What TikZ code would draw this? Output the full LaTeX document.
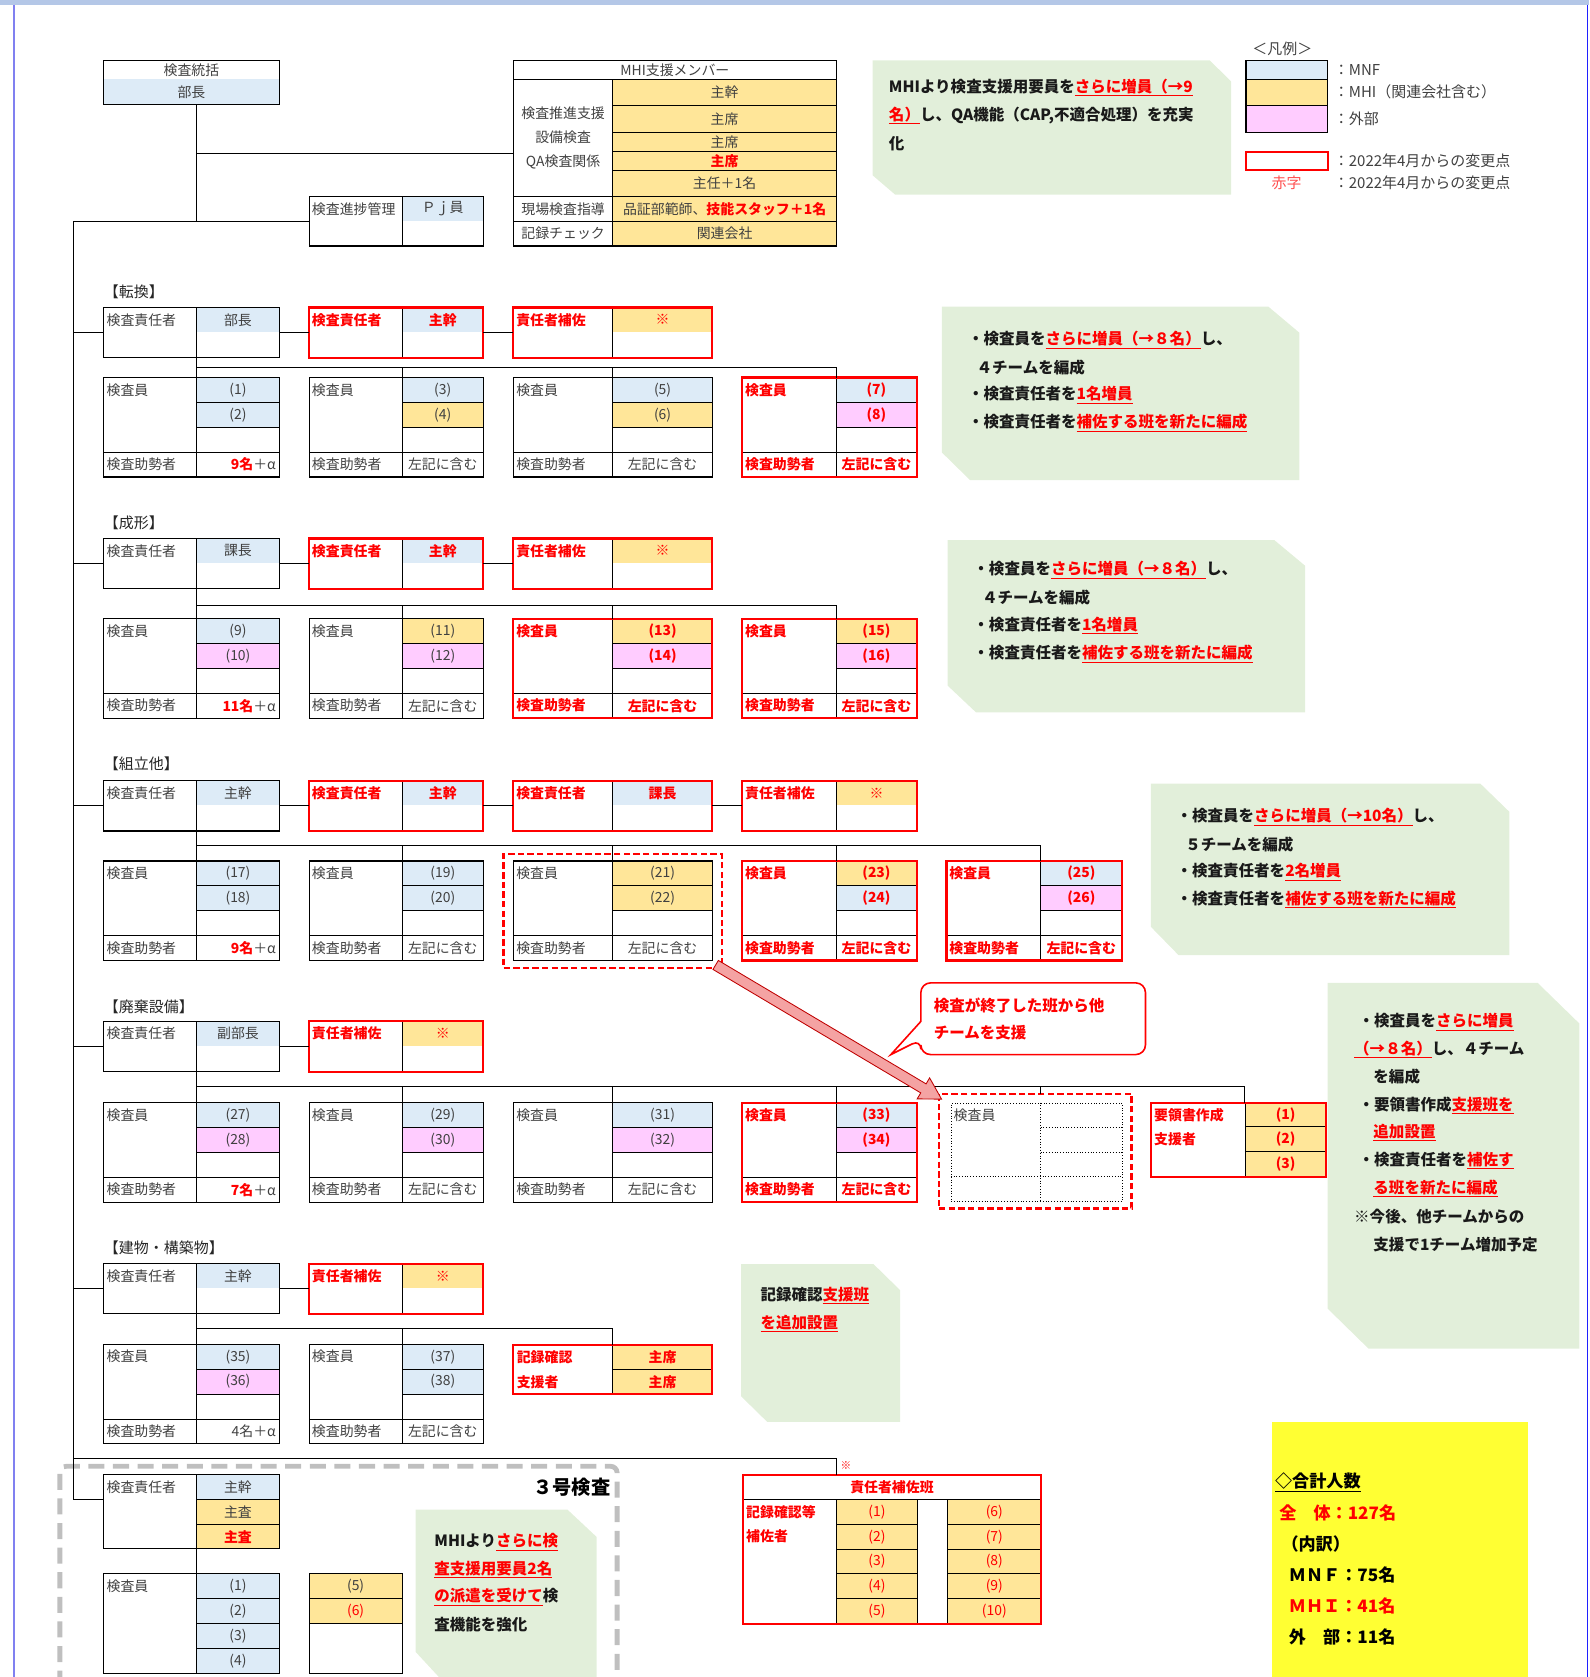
\documentclass[tikz,border=0pt]{standalone}
\usepackage{fontspec}
\setmainfont{Noto Sans CJK JP}
\usetikzlibrary{shapes.arrows,calc}
\definecolor{mnf}{HTML}{DDEBF7}
\definecolor{mhi}{HTML}{FFE699}
\definecolor{ext}{HTML}{FFCCFF}
\definecolor{notegreen}{HTML}{E2EFDA}
\definecolor{tgray}{HTML}{404040}
\definecolor{sumyellow}{HTML}{FFFF33}
\definecolor{topbar}{HTML}{B4C7E7}
\definecolor{frameleft}{HTML}{8080F0}
\definecolor{frameright}{HTML}{2020FF}
\definecolor{arrowfill}{HTML}{F4A3A3}
\definecolor{lightred}{HTML}{FF5050}
\definecolor{dashgray}{HTML}{BFBFBF}
\tikzset{
  kframe/.style={draw=black, line width=1pt, inner sep=0pt, outer sep=0pt},
  rframe/.style={draw=red, line width=2pt, inner sep=0pt, outer sep=0pt},
  cellln/.style={draw=black, line width=0.8pt},
  conn/.style={draw=black, line width=1pt},
  klbl/.style={font=\fontsize{13}{15}\selectfont, text=tgray, inner sep=0pt},
  rlbl/.style={font=\fontsize{13}{15}\selectfont\bfseries, text=red, inner sep=0pt},
  kval/.style={font=\fontsize{13}{15}\selectfont, text=tgray, inner sep=0pt},
  rval/.style={font=\fontsize{13}{15}\selectfont\bfseries, text=red, inner sep=0pt},
  ttl/.style={font=\fontsize{14}{16}\selectfont, text=black!85, anchor=west, inner sep=0pt},
  notetxt/.style={font=\fontsize{14.5}{17}\selectfont\bfseries, text=black!90, anchor=west, inner sep=0pt},
  sumtxt/.style={font=\fontsize{16}{19}\selectfont\bfseries, text=black, anchor=west, inner sep=0pt},
  legtxt/.style={font=\fontsize{14}{16}\selectfont, text=tgray, anchor=west, inner sep=0pt},
  reddash/.style={draw=red, line width=2pt, dash pattern=on 6pt off 3pt, inner sep=0pt, outer sep=0pt},
  bigarrow/.style={single arrow, draw=red!75!black, fill=arrowfill, line width=0.8pt, inner sep=4.5pt,
     single arrow head extend=6.5pt, single arrow tip angle=60, single arrow head indent=0pt},
}
\def\xAa{97}\def\xAm{184}\def\xAb{261}
\def\xBa{289}\def\xBm{376}\def\xBb{452}
\def\xCa{480}\def\xCm{573}\def\xCb{666}
\def\xDa{694}\def\xDm{782}\def\xDb{857}
\def\xEa{885}\def\xEm{973}\def\xEb{1049}
\newcommand\ru[1]{\textcolor{red}{\underline{#1}}}
% head box: #1 name #2 col #3 top #4 k/r #5 fill #6 left #7 right
\newcommand\headbox[7]{%
 \edef\tbxa{\csname x#2a\endcsname}\edef\tbxm{\csname x#2m\endcsname}\edef\tbxb{\csname x#2b\endcsname}%
 \pgfmathsetmacro\tbya{#3}\pgfmathsetmacro\tbyb{#3+23}\pgfmathsetmacro\tbye{#3+47}%
 \pgfmathsetmacro\tbww{\tbxb-\tbxa}\pgfmathsetmacro\tbxc{(\tbxm+\tbxb)/2}%
 \fill[#5] (\tbxm,\tbya) rectangle (\tbxb,\tbyb);
 \draw[cellln] (\tbxm,\tbya) -- (\tbxm,\tbye);
 \node[#4frame, anchor=north west, minimum width=\tbww pt, minimum height=47pt] (#1) at (\tbxa,\tbya) {};
 \node[#4lbl, anchor=west] (#1-l) at (\tbxa+2.5,\tbya+11.5) {#6};
 \node[#4val] (#1-r) at (\tbxc,\tbya+11.5) {#7};
}
% team box: #1 name #2 col #3 top #4 k/r #5 fill1 #6 val1 #7 fill2 #8 val2 #9 bottom right
\newcommand\teambox[9]{%
 \edef\tbxa{\csname x#2a\endcsname}\edef\tbxm{\csname x#2m\endcsname}\edef\tbxb{\csname x#2b\endcsname}%
 \pgfmathsetmacro\tbya{#3}\pgfmathsetmacro\tbyb{#3+23.25}\pgfmathsetmacro\tbyc{#3+46.5}%
 \pgfmathsetmacro\tbyd{#3+69.75}\pgfmathsetmacro\tbye{#3+93}%
 \pgfmathsetmacro\tbww{\tbxb-\tbxa}\pgfmathsetmacro\tbxc{(\tbxm+\tbxb)/2}\pgfmathsetmacro\tbcw{\tbxb-\tbxm-6}%
 \fill[#5] (\tbxm,\tbya) rectangle (\tbxb,\tbyb);
 \fill[#7] (\tbxm,\tbyb) rectangle (\tbxb,\tbyc);
 \draw[cellln] (\tbxm,\tbya) -- (\tbxm,\tbye) (\tbxm,\tbyb) -- (\tbxb,\tbyb) (\tbxm,\tbyc) -- (\tbxb,\tbyc) (\tbxa,\tbyd) -- (\tbxb,\tbyd);
 \node[#4frame, anchor=north west, minimum width=\tbww pt, minimum height=93pt] (#1) at (\tbxa,\tbya) {};
 \node[#4lbl, anchor=west] (#1-l) at (\tbxa+2.5,\tbya+11.5) {検査員};
 \node[#4val] (#1-v1) at (\tbxc,\tbya+11.6) {#6};
 \node[#4val] (#1-v2) at (\tbxc,\tbyb+11.6) {#8};
 \node[#4lbl, anchor=west] (#1-h) at (\tbxa+2.5,\tbyd+11.6) {検査助勢者};
 \node[#4val, text width=\tbcw pt, align=center] (#1-n) at (\tbxc,\tbyd+11.6) {#9};
}
\begin{document}
\begin{tikzpicture}[x=1pt,y=-1pt]
\useasboundingbox (0,0) rectangle (1486,1568);
\clip (0,0) rectangle (1486,1568);
% frame
\fill[topbar] (0,0) rectangle (1486,4.5);
\draw[frameleft, line width=1.5pt] (13,4.5) -- (13,1568);
\draw[frameright, line width=1.2pt] (1484,4.5) -- (1484,1568);

% green notes
\fill[notegreen] (816,56.4) -- (1131,56.4) -- (1151,76) -- (1151,182) -- (837,182) -- (816,164) -- cycle;
\fill[notegreen] (880.6,286.8) -- (1186,286.8) -- (1214.8,311) -- (1214.8,448.9) -- (907,448.9) -- (880.6,423) -- cycle;
\fill[notegreen] (886,505) -- (1191.5,505) -- (1220.3,529) -- (1220.3,666) -- (912.5,666) -- (886,641) -- cycle;
\fill[notegreen] (1076.1,732.6) -- (1384,732.6) -- (1411.2,759) -- (1411.2,893.1) -- (1102,893.1) -- (1076.1,866.6) -- cycle;
\fill[notegreen] (1241.3,919) -- (1437.7,919) -- (1476.7,957) -- (1476.7,1261) -- (1279.6,1261) -- (1241.3,1223.5) -- cycle;
\fill[notegreen] (692.9,1182) -- (816.8,1182) -- (841.7,1206.4) -- (841.7,1329.5) -- (717.4,1329.5) -- (692.9,1305.5) -- cycle;
\fill[notegreen] (388.7,1411.5) -- (530.6,1411.5) -- (557.8,1437) -- (557.8,1600) -- (440,1600) -- (388.7,1544.6) -- cycle;

% summary box
\node[fill=sumyellow, anchor=north west, minimum width=239pt, minimum height=260pt, inner sep=0pt] (sumbox) at (1189,1329.5) {};

% 3号 dashed frame
\draw[dashgray, line width=4.5pt, dash pattern=on 15pt off 8pt, rounded corners=6pt] (56,1600) -- (56,1371) -- (577,1371) -- (577,1600);

% coordinates
\coordinate (spine) at (69,207);
\coordinate (spineBot) at (69,1402.2);
\coordinate (cA) at (184,0);
\coordinate (cB) at (376,0);
\coordinate (cC) at (573,0);
\coordinate (cD) at (782,0);
\coordinate (cE) at (973,0);
\coordinate (cY) at (1164,0);

% ===== top: 検査統括
\fill[mnf] (97,74) rectangle (261,98);
\node[kframe, anchor=north west, minimum width=164pt, minimum height=41pt] (tokatsu) at (97,57) {};
\node[klbl] (tokatsu-t) at (179,65.5) {検査統括};
\node[klbl] (tokatsu-v) at (179,86) {部長};

% MHI table
\fill[mhi] (573,74) rectangle (782,230);
\draw[cellln] (480,74) -- (782,74) (573,74) -- (573,230) (573,98.5) -- (782,98.5) (573,124) -- (782,124)
  (573,142) -- (782,142) (573,159) -- (782,159) (480,184) -- (782,184) (480,207) -- (782,207);
\node[kframe, anchor=north west, minimum width=302pt, minimum height=173pt] (mhi) at (480,57) {};
\node[klbl] (m-title) at (631,65.5) {MHI支援メンバー};
\node[klbl] (m-l1) at (526.5,105.5) {検査推進支援};
\node[klbl] (m-l2) at (526.5,128.5) {設備検査};
\node[klbl] (m-l3) at (526.5,151.5) {QA検査関係};
\node[klbl] (m-l4) at (526.5,195.5) {現場検査指導};
\node[klbl] (m-l5) at (526.5,218.5) {記録チェック};
\node[klbl] (m-r1) at (677.5,86.2) {主幹};
\node[klbl] (m-r2) at (677.5,111.2) {主席};
\node[klbl] (m-r3) at (677.5,133) {主席};
\node[rlbl] (m-r4) at (677.5,150.5) {主席};
\node[klbl] (m-r5) at (677.5,171.5) {主任＋1名};
\node[klbl] (m-r6) at (677.5,195.5) {品証部範師、\textcolor{red}{\bfseries 技能スタッフ＋1名}};
\node[klbl] (m-r7) at (677.5,218.5) {関連会社};

% 検査進捗管理
\fill[mnf] (376,184) rectangle (452,207);
\draw[cellln] (376,184) -- (376,230);
\node[kframe, anchor=north west, minimum width=163pt, minimum height=46pt] (shinchoku) at (289,184) {};
\node[klbl, anchor=west] (shinchoku-l) at (291.5,195.5) {検査進捗管理};
\node[klbl] (shinchoku-r) at (414,195.5) {Ｐｊ員};

\draw[conn] (tokatsu.south -| cA) -- (spine -| cA);
\draw[conn] (mhi.west -| cA) -- (mhi.west);
\draw[conn] (spine) -- (shinchoku.west);
\draw[conn] (spine) -- (spineBot);

% top note text
\node[notetxt] (n0a) at (831,82) {MHIより検査支援用要員を\ru{さらに増員（→9}};
\node[notetxt] (n0b) at (831,108) {\ru{名）}し、QA機能（CAP,不適合処理）を充実};
\node[notetxt] (n0c) at (831,134) {化};

% legend
\node[legtxt, anchor=center] (lg-t) at (1199,46) {＜凡例＞};
\node[kframe, fill=mnf, anchor=north west, minimum width=76.5pt, minimum height=17.6pt] (lg-mnf) at (1165,56.4) {};
\node[kframe, fill=mhi, anchor=north west, minimum width=76.5pt, minimum height=24.5pt] (lg-mhi) at (1165,74) {};
\node[kframe, fill=ext, anchor=north west, minimum width=76.5pt, minimum height=25.5pt] (lg-ext) at (1165,98.5) {};
\node[rframe, anchor=north west, minimum width=76.5pt, minimum height=17pt] (lg-red) at (1165,142) {};
\node[legtxt] (lg-1) at (1247,65) {：MNF};
\node[legtxt] (lg-2) at (1247,86) {：MHI（関連会社含む）};
\node[legtxt] (lg-3) at (1247,111) {：外部};
\node[legtxt] (lg-4) at (1247,150.5) {：2022年4月からの変更点};
\node[legtxt, text=lightred, anchor=center] (lg-5) at (1203,171) {赤字};
\node[legtxt] (lg-6) at (1247,171) {：2022年4月からの変更点};

% ===== 転換
\node[ttl] (t-title) at (97,273) {【転換】};
\headbox{tA1}{A}{287.5}{k}{mnf}{検査責任者}{部長}
\headbox{tB1}{B}{287.5}{r}{mnf}{検査責任者}{主幹}
\headbox{tC1}{C}{287.5}{r}{mhi}{責任者補佐}{※}
\teambox{tA2}{A}{353}{k}{mnf}{(1)}{mnf}{(2)}{\hfill\textcolor{red}{\bfseries 9名}＋α}
\teambox{tB2}{B}{353}{k}{mnf}{(3)}{mhi}{(4)}{左記に含む}
\teambox{tC2}{C}{353}{k}{mnf}{(5)}{mhi}{(6)}{左記に含む}
\teambox{tD2}{D}{353}{r}{mnf}{(7)}{ext}{(8)}{左記に含む}
\draw[conn] (tA1.west -| spine) -- (tA1.west);
\draw[conn] (tA1.east) -- (tB1.west);
\draw[conn] (tB1.east) -- (tC1.west);
\coordinate (tbus) at (184,343.5);
\draw[conn] (tA1.south -| cA) -- (tA2.north -| cA);
\draw[conn] (tbus) -- (tbus -| cD) -- (tD2.north -| cD);
\draw[conn] (tbus -| cB) -- (tB2.north -| cB);
\draw[conn] (tbus -| cC) -- (tC2.north -| cC);
\node[notetxt] (n1a) at (905,318) {・検査員を\ru{さらに増員（→８名）}し、};
\node[notetxt] (n1b) at (913,343.5) {４チームを編成};
\node[notetxt] (n1c) at (905,369.4) {・検査責任者を\ru{1名増員}};
\node[notetxt] (n1d) at (905,395.3) {・検査責任者を\ru{補佐する班を新たに編成}};

% ===== 成形
\node[ttl] (s-title) at (97,489) {【成形】};
\headbox{sA1}{A}{503.5}{k}{mnf}{検査責任者}{課長}
\headbox{sB1}{B}{503.5}{r}{mnf}{検査責任者}{主幹}
\headbox{sC1}{C}{503.5}{r}{mhi}{責任者補佐}{※}
\teambox{sA2}{A}{578.5}{k}{mnf}{(9)}{ext}{(10)}{\hfill\textcolor{red}{\bfseries 11名}＋α}
\teambox{sB2}{B}{578.5}{k}{mhi}{(11)}{ext}{(12)}{左記に含む}
\teambox{sC2}{C}{578.5}{r}{mhi}{(13)}{ext}{(14)}{左記に含む}
\teambox{sD2}{D}{578.5}{r}{mhi}{(15)}{ext}{(16)}{左記に含む}
\draw[conn] (sA1.west -| spine) -- (sA1.west);
\draw[conn] (sA1.east) -- (sB1.west);
\draw[conn] (sB1.east) -- (sC1.west);
\coordinate (sbus) at (184,566);
\draw[conn] (sA1.south -| cA) -- (sA2.north -| cA);
\draw[conn] (sbus) -- (sbus -| cD) -- (sD2.north -| cD);
\draw[conn] (sbus -| cB) -- (sB2.north -| cB);
\draw[conn] (sbus -| cC) -- (sC2.north -| cC);
\node[notetxt] (n2a) at (910,533) {・検査員を\ru{さらに増員（→８名）}し、};
\node[notetxt] (n2b) at (918,559) {４チームを編成};
\node[notetxt] (n2c) at (910,585) {・検査責任者を\ru{1名増員}};
\node[notetxt] (n2d) at (910,611.5) {・検査責任者を\ru{補佐する班を新たに編成}};

% ===== 組立他
\node[ttl] (k-title) at (97,714) {【組立他】};
\headbox{kA1}{A}{730}{k}{mnf}{検査責任者}{主幹}
\headbox{kB1}{B}{730}{r}{mnf}{検査責任者}{主幹}
\headbox{kC1}{C}{730}{r}{mnf}{検査責任者}{課長}
\headbox{kD1}{D}{730}{r}{mhi}{責任者補佐}{※}
\teambox{kA2}{A}{805}{k}{mnf}{(17)}{mnf}{(18)}{\hfill\textcolor{red}{\bfseries 9名}＋α}
\teambox{kB2}{B}{805}{k}{mnf}{(19)}{mnf}{(20)}{左記に含む}
\teambox{kC2}{C}{805}{k}{mhi}{(21)}{mhi}{(22)}{左記に含む}
\teambox{kD2}{D}{805}{r}{mhi}{(23)}{mnf}{(24)}{左記に含む}
\teambox{kE2}{E}{805}{r}{mnf}{(25)}{ext}{(26)}{左記に含む}
\draw[conn] (kA1.west -| spine) -- (kA1.west);
\draw[conn] (kA1.east) -- (kB1.west);
\draw[conn] (kB1.east) -- (kC1.west);
\draw[conn] (kC1.east) -- (kD1.west);
\coordinate (kbus) at (184,790.5);
\draw[conn] (kA1.south -| cA) -- (kA2.north -| cA);
\draw[conn] (kbus) -- (kbus -| cE) -- (kE2.north -| cE);
\draw[conn] (kbus -| cB) -- (kB2.north -| cB);
\draw[conn] (kbus -| cC) -- (kC2.north -| cC);
\draw[conn] (kbus -| cD) -- (kD2.north -| cD);
\node[reddash, anchor=north west, minimum width=204pt, minimum height=106.3pt] (kCd) at (470.8,798.7) {};
\node[notetxt] (n3a) at (1100,763.7) {・検査員を\ru{さらに増員（→10名）}し、};
\node[notetxt] (n3b) at (1108,789.3) {５チームを編成};
\node[notetxt] (n3c) at (1100,815.2) {・検査責任者を\ru{2名増員}};
\node[notetxt] (n3d) at (1100,841) {・検査責任者を\ru{補佐する班を新たに編成}};

% ===== 廃棄設備
\node[ttl] (h-title) at (97,941) {【廃棄設備】};
\headbox{hA1}{A}{955}{k}{mnf}{検査責任者}{副部長}
\headbox{hB1}{B}{955}{r}{mhi}{責任者補佐}{※}
\teambox{hA2}{A}{1031}{k}{mnf}{(27)}{ext}{(28)}{\hfill\textcolor{red}{\bfseries 7名}＋α}
\teambox{hB2}{B}{1031}{k}{mnf}{(29)}{ext}{(30)}{左記に含む}
\teambox{hC2}{C}{1031}{k}{mnf}{(31)}{ext}{(32)}{左記に含む}
\teambox{hD2}{D}{1031}{r}{mnf}{(33)}{ext}{(34)}{左記に含む}
% dotted empty team
\draw[black, line width=0.6pt, dotted] (973,1031) -- (973,1123) (973,1054) -- (1049,1054) (973,1077) -- (1049,1077) (889,1100) -- (1049,1100);
\node[draw=black, line width=0.6pt, dotted, anchor=north west, minimum width=160pt, minimum height=92pt, inner sep=0pt] (hE2) at (889,1031) {};
\node[klbl, anchor=west] (hE2-l) at (891.5,1042.6) {検査員};
\node[reddash, anchor=north west, minimum width=180pt, minimum height=107.5pt] (hEd) at (878,1022.5) {};
% 要領書作成
\fill[mhi] (1164,1031.2) rectangle (1240,1100.4);
\draw[cellln] (1164,1031.2) -- (1164,1100.4) (1164,1053.5) -- (1240,1053.5) (1164,1077) -- (1240,1077);
\node[rframe, anchor=north west, minimum width=164pt, minimum height=69.2pt] (yoryo) at (1076,1031.2) {};
\node[rlbl, anchor=west] (yoryo-l1) at (1079,1042.3) {要領書作成};
\node[rlbl, anchor=west] (yoryo-l2) at (1079,1065.2) {支援者};
\node[rval] (yoryo-1) at (1202,1042.3) {(1)};
\node[rval] (yoryo-2) at (1202,1065.2) {(2)};
\node[rval] (yoryo-3) at (1202,1088.7) {(3)};
\draw[conn] (hA1.west -| spine) -- (hA1.west);
\draw[conn] (hA1.east) -- (hB1.west);
\coordinate (hbus) at (184,1016.3);
\draw[conn] (hA1.south -| cA) -- (hA2.north -| cA);
\draw[conn] (hbus) -- (hbus -| cY) -- (yoryo.north -| cY);
\draw[conn] (hbus -| cB) -- (hB2.north -| cB);
\draw[conn] (hbus -| cC) -- (hC2.north -| cC);
\draw[conn] (hbus -| cD) -- (hD2.north -| cD);
\draw[conn] (hbus -| cE) -- (hEd.north -| cE);
\node[notetxt] (n4a) at (1270,955.5) {・検査員を\ru{さらに増員}};
\node[notetxt] (n4b) at (1266,981.3) {\ru{（→８名）}し、４チーム};
\node[notetxt] (n4c) at (1284,1007) {を編成};
\node[notetxt] (n4d) at (1270,1033.4) {・要領書作成\ru{支援班を}};
\node[notetxt] (n4e) at (1284,1059) {\ru{追加設置}};
\node[notetxt] (n4f) at (1270,1084.8) {・検査責任者を\ru{補佐す}};
\node[notetxt] (n4g) at (1284,1111.3) {\ru{る班を新たに編成}};
\node[notetxt] (n4h) at (1266,1137.2) {※今後、他チームからの};
\node[notetxt] (n4i) at (1284,1163.4) {支援で1チーム増加予定};

% arrow and callout
\coordinate (arrS) at (668.8,902);
\node[bigarrow, rotate=-30.72, anchor=tail, minimum height=245.7pt] (arr) at (arrS) {};
\draw[red, line width=1.5pt, fill=white, rounded corners=9pt] (861,955) -- (861,919) -- (1071,919) -- (1071,986) -- (861,986) -- (861,972) [sharp corners] -- (833,986) -- cycle;
\node[notetxt, text=red] (co-1) at (873,940) {検査が終了した班から他};
\node[notetxt, text=red] (co-2) at (873,965.7) {チームを支援};

% ===== 建物・構築物
\node[ttl] (b-title) at (97,1167) {【建物・構築物】};
\headbox{bA1}{A}{1181.5}{k}{mnf}{検査責任者}{主幹}
\headbox{bB1}{B}{1181.5}{r}{mhi}{責任者補佐}{※}
\teambox{bA2}{A}{1257}{k}{mnf}{(35)}{ext}{(36)}{\hfill 4名＋α}
\teambox{bB2}{B}{1257}{k}{mnf}{(37)}{mnf}{(38)}{左記に含む}
\fill[mhi] (573,1257.2) rectangle (666,1303.6);
\draw[cellln] (573,1257.2) -- (573,1303.6) (573,1280.4) -- (666,1280.4);
\node[rframe, anchor=north west, minimum width=186pt, minimum height=46.4pt] (kiroku) at (480,1257.2) {};
\node[rlbl, anchor=west] (kiroku-l1) at (483,1268.8) {記録確認};
\node[rlbl, anchor=west] (kiroku-l2) at (483,1292) {支援者};
\node[rval] (kiroku-1) at (619.5,1268.8) {主席};
\node[rval] (kiroku-2) at (619.5,1292) {主席};
\draw[conn] (bA1.west -| spine) -- (bA1.west);
\draw[conn] (bA1.east) -- (bB1.west);
\coordinate (bbus) at (184,1242);
\draw[conn] (bA1.south -| cA) -- (bA2.north -| cA);
\draw[conn] (bbus) -- (bbus -| cC) -- (kiroku.north -| cC);
\draw[conn] (bbus -| cB) -- (bB2.north -| cB);
\node[notetxt] (n5a) at (711,1211) {記録確認\ru{支援班}};
\node[notetxt] (n5b) at (711,1237.6) {\ru{を追加設置}};

% ===== 3号検査
\fill[mnf] (184,1378.8) rectangle (261,1402.2);
\fill[mhi] (184,1402.2) rectangle (261,1448);
\draw[cellln] (184,1378.8) -- (184,1448) (184,1402.2) -- (261,1402.2) (184,1425.5) -- (261,1425.5);
\node[kframe, anchor=north west, minimum width=164pt, minimum height=69.2pt] (g1) at (97,1378.8) {};
\node[klbl, anchor=west] (g1-l) at (99.5,1390.5) {検査責任者};
\node[kval] (g1-1) at (222.5,1390.5) {主幹};
\node[kval] (g1-2) at (222.5,1413.8) {主査};
\node[rval] (g1-3) at (222.5,1436.8) {主査};
\fill[mnf] (184,1471.3) rectangle (261,1564.9);
\draw[cellln] (184,1471.3) -- (184,1564.9) (184,1494.7) -- (261,1494.7) (184,1518.1) -- (261,1518.1) (184,1541.5) -- (261,1541.5);
\node[kframe, anchor=north west, minimum width=164pt, minimum height=93.6pt] (g2) at (97,1471.3) {};
\node[klbl, anchor=west] (g2-l) at (99.5,1483) {検査員};
\node[kval] (g2-1) at (222.5,1483) {(1)};
\node[kval] (g2-2) at (222.5,1506.4) {(2)};
\node[kval] (g2-3) at (222.5,1529.8) {(3)};
\node[kval] (g2-4) at (222.5,1553.2) {(4)};
\fill[mhi] (289,1471.3) rectangle (376,1518.1);
\draw[cellln] (289,1494.7) -- (376,1494.7) (289,1518.1) -- (376,1518.1);
\node[kframe, anchor=north west, minimum width=87pt, minimum height=93.6pt] (g3) at (289,1471.3) {};
\node[kval] (g3-5) at (332.5,1483) {(5)};
\node[kval, text=red] (g3-6) at (332.5,1506.4) {(6)};
\draw[conn] (spineBot) -- (spineBot -| g1.west);
\draw[conn] (g1.south -| cA) -- (g2.north -| cA);
\node[font=\fontsize{18}{21}\selectfont\bfseries, anchor=east, inner sep=0pt] (g-title) at (571,1391) {３号検査};
\node[notetxt] (n6a) at (406,1441.7) {MHIより\ru{さらに検}};
\node[notetxt] (n6b) at (406,1467.3) {\ru{査支援用要員2名}};
\node[notetxt] (n6c) at (406,1493.2) {\ru{の派遣を受けて}検};
\node[notetxt] (n6d) at (406,1519) {査機能を強化};

% ===== 責任者補佐班
\fill[mhi] (782,1402.2) rectangle (858,1518.1);
\fill[mhi] (886,1402.2) rectangle (973.5,1518.1);
\draw[cellln] (694.5,1402.2) -- (973.5,1402.2)
  (782,1402.2) -- (782,1518.1) (858,1402.2) -- (858,1518.1) (886,1402.2) -- (886,1518.1)
  (782,1425.5) -- (858,1425.5) (782,1448.6) -- (858,1448.6) (782,1471.4) -- (858,1471.4) (782,1494.2) -- (858,1494.2)
  (886,1425.5) -- (973.5,1425.5) (886,1448.6) -- (973.5,1448.6) (886,1471.4) -- (973.5,1471.4) (886,1494.2) -- (973.5,1494.2);
\node[rframe, anchor=north west, minimum width=279pt, minimum height=139.3pt] (hosa) at (694.5,1378.8) {};
\node[rlbl] (hosa-t) at (834,1390.5) {責任者補佐班};
\node[rlbl, anchor=west] (hosa-l1) at (697.5,1413.8) {記録確認等};
\node[rlbl, anchor=west] (hosa-l2) at (697.5,1436.8) {補佐者};
\node[kval, text=red] (hosa-1) at (820,1413.8) {(1)};
\node[kval, text=red] (hosa-2) at (820,1437) {(2)};
\node[kval, text=red] (hosa-3) at (820,1460) {(3)};
\node[kval, text=red] (hosa-4) at (820,1482.8) {(4)};
\node[kval, text=red] (hosa-5) at (820,1506.2) {(5)};
\node[kval, text=red] (hosa-6) at (929.7,1413.8) {(6)};
\node[kval, text=red] (hosa-7) at (929.7,1437) {(7)};
\node[kval, text=red] (hosa-8) at (929.7,1460) {(8)};
\node[kval, text=red] (hosa-9) at (929.7,1482.8) {(9)};
\node[kval, text=red] (hosa-10) at (929.7,1506.2) {(10)};
\node[font=\fontsize{10}{12}\selectfont, text=red, inner sep=0pt] (hosa-mark) at (791,1370) {※};
\coordinate (botbus) at (69,1363.8);
\draw[conn] (botbus) -- (botbus -| cD) -- (hosa.north -| cD);

% ===== summary
\node[sumtxt] (sum-1) at (1192,1385.6) {\underline{◇合計人数}};
\node[sumtxt, text=red] (sum-2) at (1196,1414.7) {全　体：127名};
\node[sumtxt] (sum-3) at (1198,1443.3) {（内訳）};
\node[sumtxt] (sum-4) at (1205,1473) {ＭＮＦ：75名};
\node[sumtxt, text=red] (sum-5) at (1205,1501.6) {ＭＨＩ：41名};
\node[sumtxt] (sum-6) at (1205,1530.6) {外　部：11名};
\end{tikzpicture}
\end{document}
